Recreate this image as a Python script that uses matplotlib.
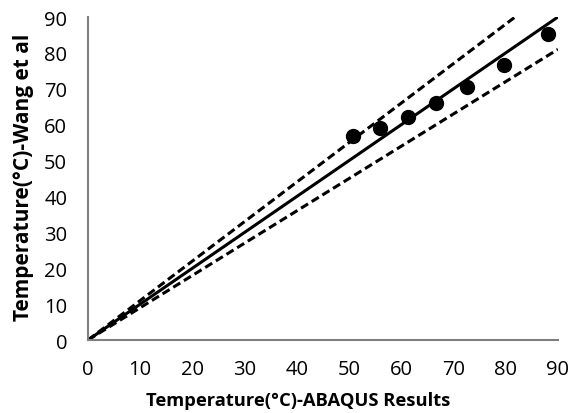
import matplotlib
matplotlib.use("Agg")
import matplotlib.pyplot as plt
import numpy as np

# Measured points: ABAQUS results vs. Wang et al
abaqus = [50.7, 55.9, 61.3, 66.6, 72.6, 79.7, 88.1]
wang = [56.8, 59.1, 62.1, 66.0, 70.5, 76.6, 85.3]

# Line of equality and +/-10% bounds
equal_x = [0, 90]
equal_y = [0, 90]
upper_x = [0, 81.8]
upper_y = [0, 90]
lower_x = [0, 90]
lower_y = [0, 81]

ticks = [0, 10, 20, 30, 40, 50, 60, 70, 80, 90]

plt.rcParams['font.family'] = ['Open Sans', 'DejaVu Sans']

fig = plt.figure(figsize=(5.74, 4.14), dpi=100)
ax = fig.add_axes([0.1533, 0.1763, 0.8187, 0.7802])

ax.plot(equal_x, equal_y, color='black', lw=2.2, solid_capstyle='butt')
ax.plot(upper_x, upper_y, color='black', lw=2.2, dashes=(2.7, 1.4))
ax.plot(lower_x, lower_y, color='black', lw=2.2, dashes=(2.7, 1.4))
ax.plot(abaqus, wang, 'o', color='black', ms=10, zorder=5)

ax.set_xlim(0, 90)
ax.set_ylim(0, 90)
ax.set_xticks(ticks)
ax.set_yticks(ticks)
ax.tick_params(length=0, labelsize=14.5, colors='black')
ax.tick_params(axis='x', pad=14)
ax.tick_params(axis='y', pad=15)

for side in ('top', 'right'):
    ax.spines[side].set_visible(False)
for side in ('left', 'bottom'):
    ax.spines[side].set_color('#7f7f7f')
    ax.spines[side].set_linewidth(1.5)

ax.set_xlabel('Temperature(°C)-ABAQUS Results', fontsize=13.2, fontweight='bold',
              labelpad=8, x=0.447)
ax.set_ylabel('Temperature(°C)-Wang et al', fontsize=15, fontweight='bold',
              labelpad=7, y=0.508)

fig.savefig('out.png', dpi=100)
